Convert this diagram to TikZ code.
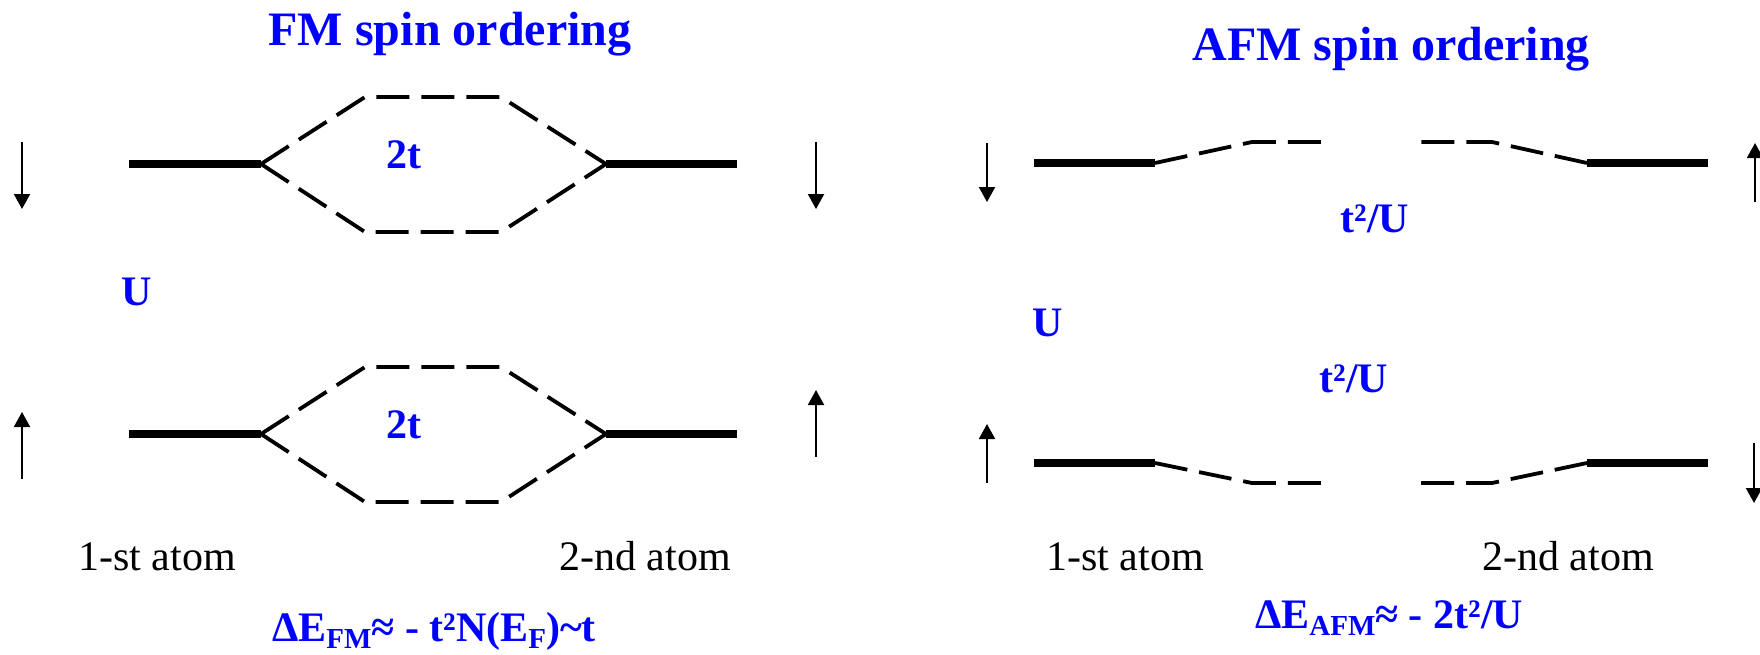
\documentclass[tikz,border=0pt]{standalone}
\usepackage{fontspec}
\setmainfont{Liberation Serif}
\usepackage{xcolor}
\usetikzlibrary{arrows.meta}
\definecolor{spinblue}{HTML}{0000FF}
\definecolor{ink}{HTML}{000000}
\newcommand{\lowsub}[1]{\raisebox{-3.5pt}{\fontsize{14.5}{15}\selectfont #1}}

\begin{document}
\begin{tikzpicture}[x=0.5pt,y=-0.5pt,>={Triangle[length=7.5pt,width=8pt]},
level/.style={draw=ink,line width=3.8pt},split/.style={draw=ink,line width=1.9pt,dash pattern=on 16.5pt off 6pt},spin/.style={->,draw=ink,line width=1pt},
title/.style={anchor=base,text=spinblue,font=\fontsize{24}{28}\selectfont\bfseries,inner sep=0pt},gaplabel/.style={anchor=base,text=spinblue,font=\fontsize{21}{25}\selectfont\bfseries,inner sep=0pt},atomlabel/.style={anchor=base,text=ink,font=\fontsize{21}{25}\selectfont,inner sep=0pt}]
\useasboundingbox (0,0) rectangle (1760,654);
\node[title] (fmtitle) at (450,45) {FM spin ordering};
\node[title] (afmtitle) at (1391,60) {AFM spin ordering};
\foreach \row/\yy in {1/164,2/434}{
\coordinate (fa\row) at (129,\yy);
\coordinate (fb\row) at (261,\yy);
\coordinate (fc\row) at (365,\yy-67);
\coordinate (fd\row) at (501,\yy-67);
\coordinate (fe\row) at (606,\yy);
\coordinate (ff\row) at (737,\yy);
\coordinate (fg\row) at (365,\yy+68);
\coordinate (fh\row) at (501,\yy+68);
\draw[level] (fa\row)--(fb\row);
\draw[level] (fe\row)--(ff\row);
\draw[split] (fb\row)--(fc\row)--(fd\row)--(fe\row);
\draw[split] (fb\row)--(fg\row)--(fh\row)--(fe\row);
\node[gaplabel] (twot\row) at (404,\yy+4) {2t};
}
\draw[spin] (22,142)--(22,209);
\draw[spin] (816,142)--(816,209);
\draw[spin] (22,479)--(22,412);
\draw[spin] (816,457)--(816,390);
\node[gaplabel] (fmU) at (137,305) {U};
\coordinate (ga1) at (1034,163); \coordinate (gb1) at (1155,163);
\coordinate (gc1) at (1252,142); \coordinate (gd1) at (1323,142);
\coordinate (ge1) at (1420,142); \coordinate (gf1) at (1492,142);
\coordinate (gg1) at (1587,163); \coordinate (gh1) at (1708,163);
\coordinate (ga2) at (1034,463); \coordinate (gb2) at (1155,463);
\coordinate (gc2) at (1252,483); \coordinate (gd2) at (1323,483);
\coordinate (ge2) at (1420,483); \coordinate (gf2) at (1492,483);
\coordinate (gg2) at (1587,463); \coordinate (gh2) at (1708,463);
\foreach \row in {1,2}{
\draw[level] (ga\row)--(gb\row);
\draw[level] (gg\row)--(gh\row);
\draw[split] (gb\row)--(gc\row)--(gd\row);
\draw[split] (gg\row)--(gf\row)--(ge\row);
}
\draw[spin] (987,143)--(987,202);
\draw[spin] (1755,202)--(1755,143);
\draw[spin] (987,483)--(987,424);
\draw[spin] (1754,443)--(1754,503);
\node[gaplabel] (afmU) at (1048,336) {U};
\node[gaplabel] (hopup) at (1375,232) {t²/U};
\node[gaplabel] (hopdown) at (1354,392) {t²/U};
\node[atomlabel] (fmfirst) at (157,570) {1-st atom};
\node[atomlabel] (fmsecond) at (645,570) {2-nd atom};
\node[atomlabel] (afmfirst) at (1125,570) {1-st atom};
\node[atomlabel] (afmsecond) at (1568,570) {2-nd atom};
\node[gaplabel] (fmenergy) at (434,641) {ΔE\lowsub{FM}≈ - t²N(E\lowsub{F})\textasciitilde t};
\node[gaplabel] (afmenergy) at (1389,628) {ΔE\lowsub{AFM}≈ - 2t²/U};
\end{tikzpicture}
\end{document}
